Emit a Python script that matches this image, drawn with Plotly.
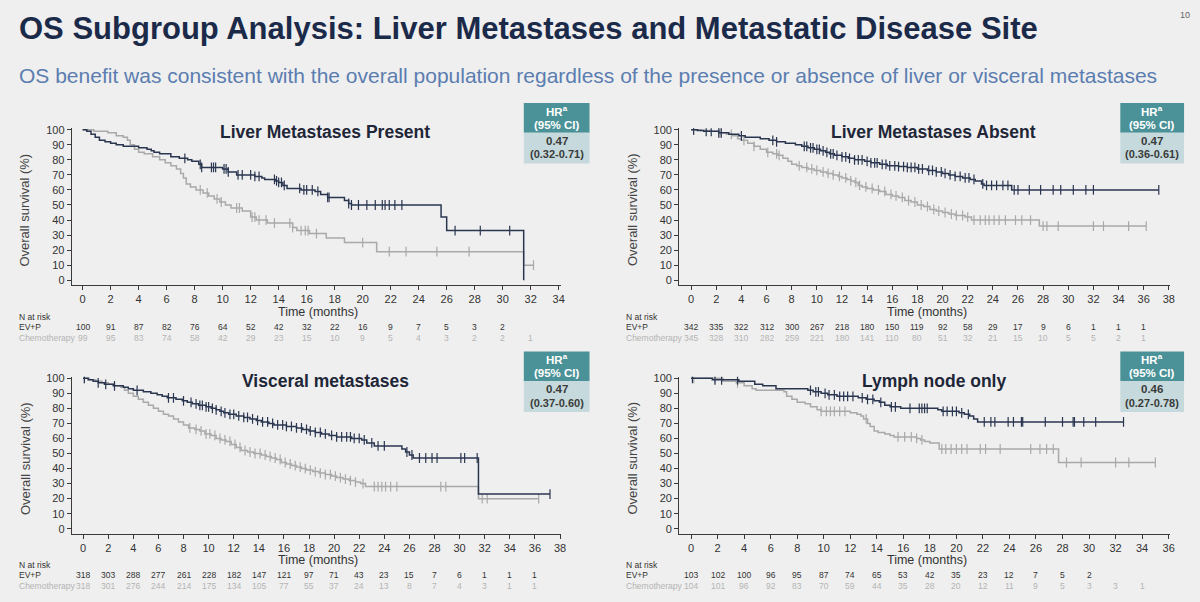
import plotly.graph_objects as go

# ---------------- DATA ----------------
# Liver metastases present (top-left)
tl_ev_t = [0, 0.3, 0.6, 0.9, 1.2, 1.6, 2.0, 2.4, 2.9, 4.0, 4.6, 4.9, 5.1, 5.5, 6.3, 6.9, 7.5, 7.8, 8.3, 8.5,
           10.0, 10.4, 11.0, 12.3, 12.8, 13.0, 13.8, 14.0, 14.3, 14.6, 15.6, 16.6, 17.0, 17.5, 18.7, 19.0, 19.2,
           25.6, 26.0, 31.5]
tl_ev_s = [100, 99, 97, 95, 93, 92, 91, 90, 89, 88, 87, 86, 85, 84, 82, 81, 80, 79, 77, 75,
           74, 72, 70, 69, 68, 67, 66, 65, 63, 61, 60, 59, 57, 55, 53, 51, 50,
           42, 33, 0]
tl_ev_c = [7.3, 8.4, 8.5, 9.2, 9.35, 9.5, 10.1, 10.25, 10.4, 11.1, 11.4, 12.0, 12.3, 12.6, 13.7, 13.85, 14.0,
           14.2, 14.4, 15.5, 15.8, 16.0, 16.4, 16.8, 17.5, 17.6, 19.0, 19.2, 19.7, 20.3, 20.9, 21.4, 21.6, 21.9,
           22.3, 22.8, 26.6, 28.4, 30.5]
tl_ch_t = [0, 0.8, 1.8, 2.4, 2.9, 3.2, 3.4, 3.7, 4.0, 4.4, 5.0, 5.5, 5.9, 6.3, 6.7, 7.0, 7.2, 7.4, 7.7, 8.1,
           8.6, 9.0, 9.4, 9.8, 10.2, 10.6, 11.4, 12.0, 12.4, 13.2, 15.0, 15.3, 16.2, 17.4, 18.7, 21.0, 31.5]
tl_ch_s = [100, 99, 98, 96, 95, 93, 90, 87, 85, 84, 82, 80, 78, 76, 74, 71, 68, 64, 62, 60,
           58, 56, 54, 52, 50, 48, 46, 42, 40, 38, 35, 33, 31, 28, 25, 19, 10]
tl_ch_c = [8.4, 8.9, 9.6, 9.9, 11.0, 11.2, 12.1, 12.3, 12.6, 13.1, 13.7, 14.8, 15.0, 15.6, 15.9, 16.1, 16.7,
           20.0, 21.9, 23.1, 25.3, 27.6, 32.2]
tl_risk_ev = [100, 91, 87, 82, 76, 64, 52, 42, 32, 22, 16, 9, 7, 5, 3, 2]
tl_risk_ch = [99, 95, 83, 74, 58, 42, 29, 23, 15, 10, 9, 5, 4, 3, 2, 2, 1]

# Liver metastases absent (top-right)
tr_ev_t = [0, 0.5, 1.0, 2.2, 3.0, 3.8, 4.3, 5.5, 6.2, 6.8, 7.5, 8.3, 8.8, 9.3, 9.8, 10.3, 10.7, 11.0, 11.4,
           12.0, 12.5, 13.0, 13.8, 14.3, 15.0, 15.6, 16.5, 17.2, 18.0, 18.8, 19.5, 20.0, 20.5, 21.0, 21.6,
           22.2, 22.6, 23.1, 23.3, 25.5]
tr_ev_s = [100, 99.5, 99, 98, 97, 96, 95, 94, 93, 92, 91, 90, 89, 88, 87, 86, 85, 84, 83,
           82, 81, 80, 79, 78, 77, 76, 75.5, 75, 74, 73, 72, 71, 70, 69, 68,
           67, 66, 64, 63, 60]
tr_ev_c = [0.2, 1.2, 1.6, 2.2, 2.4, 4.0, 6.5, 6.8, 9.0, 9.2, 9.5, 9.7, 10.0, 10.2, 10.5, 10.8, 11.1, 11.3,
           11.6, 12.0, 12.3, 12.6, 13.0, 13.3, 13.6, 14.0, 14.3, 14.6, 14.8, 15.2, 15.5, 15.8, 16.2, 16.5,
           16.9, 17.2, 17.5, 17.8, 18.1, 18.4, 18.9, 19.2, 19.5, 19.9, 20.2, 20.6, 21.0, 21.4, 21.8, 22.1,
           22.5, 23.2, 23.5, 23.9, 24.3, 24.8, 25.2, 25.7, 26.0, 26.9, 27.8, 28.8, 29.4, 30.4, 31.4, 32.0,
           37.2]
tr_ch_t = [0, 0.8, 1.5, 2.2, 2.8, 3.3, 3.7, 4.0, 4.5, 5.0, 5.5, 6.0, 6.5, 6.9, 7.3, 7.7, 8.0, 8.4, 8.8,
           9.3, 9.8, 10.3, 10.8, 11.3, 11.7, 12.0, 12.4, 12.7, 13.0, 13.3, 13.6, 14.0, 14.5, 15.0, 15.5,
           16.0, 16.5, 17.0, 17.5, 18.0, 18.5, 19.0, 19.5, 20.0, 20.5, 21.0, 21.8, 22.3, 27.7]
tr_ch_s = [100, 99.5, 99, 98, 97, 96, 94, 93, 91, 89, 87, 85, 84, 83, 81, 79, 77, 76, 75,
           74, 73, 72, 71, 70, 69, 68, 67, 66, 65, 63, 62, 61, 60, 59, 57,
           56, 55, 53, 52, 50, 49, 47, 46, 45, 44, 43, 42, 40, 36]
tr_ch_c = [0.2, 2.3, 3.2, 4.2, 5.0, 6.1, 6.8, 7.0, 8.6, 9.2, 9.6, 10.0, 10.5, 10.9, 11.3, 11.8, 12.3, 12.7,
           13.1, 13.4, 13.9, 14.4, 14.9, 15.4, 15.9, 16.3, 16.8, 17.3, 17.8, 18.3, 18.8, 19.3, 19.7, 20.2,
           20.7, 21.1, 21.6, 22.0, 22.5, 23.0, 23.4, 23.7, 24.1, 24.5, 25.0, 25.8, 26.3, 27.0, 28.0, 28.3,
           29.2, 32.0, 32.8, 34.8, 36.2]
tr_risk_ev = [342, 335, 322, 312, 300, 267, 218, 180, 150, 119, 92, 58, 29, 17, 9, 6, 1, 1, 1]
tr_risk_ch = [345, 328, 310, 282, 259, 221, 180, 141, 110, 80, 51, 32, 21, 15, 10, 5, 5, 2, 1]

# Visceral metastases (bottom-left)
bl_ev_t = [0, 0.4, 0.8, 1.2, 1.7, 2.4, 3.2, 3.6, 4.0, 4.8, 5.4, 5.9, 6.3, 6.7, 7.4, 7.9, 8.3, 8.7, 9.2, 9.8,
           10.2, 10.6, 10.9, 11.2, 11.6, 12.2, 12.8, 13.3, 13.8, 14.2, 14.8, 15.2, 16.2, 17.0, 17.5, 18.0,
           18.5, 19.0, 19.6, 20.2, 21.4, 22.2, 22.6, 23.2, 25.4, 25.7, 26.0, 26.3, 31.5]
bl_ev_s = [100, 99, 98, 97, 96, 95, 94, 93, 92, 91, 90, 89, 88, 87, 86, 85, 84, 83, 82, 81,
           80, 79, 78, 77, 76, 75, 74, 73, 72, 71, 70, 69, 68, 67, 66, 65,
           64, 63, 62, 61, 60, 59, 57, 55, 53, 51, 49, 47, 23]
bl_ev_c = [0.1, 1.2, 1.8, 2.5, 4.3, 6.8, 7.2, 8.0, 8.6, 9.0, 9.3, 9.5, 9.8, 10.0, 10.3, 10.6, 11.0, 11.3,
           11.7, 12.0, 12.4, 12.8, 13.1, 13.5, 13.9, 14.3, 14.7, 15.1, 15.5, 15.9, 16.2, 16.6, 17.0, 17.4,
           17.8, 18.1, 18.5, 18.9, 19.3, 19.8, 20.2, 20.6, 21.0, 21.3, 21.6, 22.0, 22.4, 23.0, 23.5, 24.0,
           25.8, 26.2, 26.8, 27.3, 27.8, 28.2, 30.1, 30.4, 31.4, 37.2]
bl_ch_t = [0, 0.5, 1.0, 1.5, 2.0, 2.5, 3.0, 3.3, 3.6, 4.0, 4.4, 4.8, 5.2, 5.6, 6.0, 6.4, 6.8, 7.2, 7.6, 8.0,
           8.4, 8.9, 9.3, 9.7, 10.2, 10.6, 11.0, 11.4, 11.8, 12.2, 12.6, 13.1, 13.6, 14.2, 14.6, 15.0, 15.4,
           15.8, 16.2, 16.6, 17.0, 17.4, 17.8, 18.3, 18.8, 19.3, 19.8, 20.2, 20.7, 21.2, 21.7, 22.1, 22.5, 31.5]
bl_ch_s = [100, 99, 98, 97, 96, 95, 94, 92, 90, 88, 86, 84, 82, 80, 78, 76, 75, 73, 71, 69,
           67, 66, 65, 63, 62, 60, 59, 58, 56, 54, 52, 51, 50, 49, 48, 47, 46,
           44, 43, 42, 41, 40, 39, 38, 37, 36, 35, 34, 33, 32, 31, 30, 28, 20]
bl_ch_c = [0.1, 8.5, 9.0, 9.4, 9.8, 10.1, 10.5, 10.9, 11.3, 11.7, 12.1, 12.5, 12.9, 13.3, 13.7, 14.1, 14.5,
           14.9, 15.3, 15.7, 16.1, 16.5, 16.9, 17.3, 17.7, 18.1, 18.5, 18.9, 19.3, 19.7, 20.1, 20.5, 20.9,
           21.3, 21.7, 22.3, 23.2, 23.5, 23.8, 24.1, 24.5, 25.0, 28.5, 28.9, 31.8, 32.2, 36.3]
bl_risk_ev = [318, 303, 288, 277, 261, 228, 182, 147, 121, 97, 71, 43, 23, 15, 7, 6, 1, 1, 1]
bl_risk_ch = [318, 301, 276, 244, 214, 175, 134, 105, 77, 55, 37, 24, 13, 8, 7, 4, 3, 1, 1]

# Lymph node only (bottom-right)
br_ev_t = [0, 1.6, 3.6, 4.8, 5.4, 6.4, 8.8, 9.2, 9.8, 10.3, 11.0, 12.6, 13.2, 13.8, 14.2, 14.6, 15.0, 15.8,
           18.6, 18.9, 20.2, 20.6, 21.0, 21.3, 21.6]
br_ev_s = [100, 99, 98, 96, 95, 93, 92, 91, 90, 89, 88, 87, 86, 85, 84, 82, 81, 80,
           79, 78, 77, 76, 75, 73, 71]
br_ev_c = [0.1, 1.8, 2.3, 3.5, 9.0, 9.4, 9.6, 10.1, 10.4, 10.8, 11.2, 11.5, 11.8, 12.2, 12.9, 13.3, 13.7,
           14.3, 15.1, 15.4, 16.5, 17.2, 17.4, 17.6, 17.8, 19.0, 19.3, 19.7, 20.0, 20.4, 20.9, 22.1, 22.6,
           22.9, 23.9, 24.3, 24.9, 25.0, 26.7, 28.0, 28.8, 28.9, 29.6, 30.5, 32.6]
br_ch_t = [0, 2.4, 3.4, 4.0, 4.6, 4.9, 7.0, 7.2, 7.6, 8.0, 8.6, 9.0, 9.5, 9.8, 12.0, 12.5, 12.8, 13.0, 13.3,
           13.5, 13.8, 14.1, 14.6, 15.0, 15.3, 17.0, 17.3, 17.6, 18.0, 18.7, 27.7]
br_ch_s = [100, 98, 97, 95, 93, 92, 91, 88, 86, 84, 83, 81, 79, 78, 77, 76, 75, 73, 70,
           68, 65, 64, 63, 62, 61, 60, 59, 58, 57, 53, 44]
br_ch_c = [0.2, 1.8, 3.5, 9.8, 10.2, 10.5, 10.8, 11.2, 11.6, 13.2, 15.6, 16.1, 16.6, 17.0, 17.4, 18.9, 19.2,
           19.6, 20.0, 20.4, 20.8, 21.8, 22.2, 23.3, 25.6, 26.3, 26.8, 27.3, 28.3, 29.4, 32.0, 33.0, 35.0]
br_risk_ev = [103, 102, 100, 96, 95, 87, 74, 65, 53, 42, 35, 23, 12, 7, 5, 2]
br_risk_ch = [104, 101, 96, 92, 83, 70, 59, 44, 35, 28, 20, 12, 11, 9, 5, 3, 3, 1]

panel_titles = ["Liver Metastases Present", "Liver Metastases Absent", "Visceral metastases", "Lymph node only"]
hr_values = ["0.47", "0.47", "0.47", "0.46"]
hr_ci = ["(0.32-0.71)", "(0.36-0.61)", "(0.37-0.60)", "(0.27-0.78)"]
x_max_ticks = [34, 38, 38, 36]

# ---------------- STYLE / LAYOUT ----------------
W, H = 1200, 602
BG = "#efefef"
NAVY = "#2a3650"
GREY = "#a9a9a9"
FONT = "Liberation Sans, Arial, sans-serif"

# pixel geometry of each panel: (x_left, x_right, y_top, y_bottom, xrange, risk-table base y)
geom = [
    (72, 563, 124.5, 283, [-0.78, 34.14], 285),
    (682, 1175, 124.5, 283, [-0.95, 38.1], 285),
    (72, 563, 375.5, 534, [-0.91, 38.05], 536),
    (682, 1175, 375.5, 534, [-0.9, 36.11], 536),
]
YR = [-3.3, 101]

def fx(p):
    return p / W

def fy(p):
    return 1 - p / H

def step_val(ts, ss, t):
    v = ss[0]
    for ti, si in zip(ts, ss):
        if ti <= t:
            v = si
    return v

panels = [
    (tl_ev_t, tl_ev_s, tl_ev_c, tl_ch_t, tl_ch_s, tl_ch_c, tl_risk_ev, tl_risk_ch),
    (tr_ev_t, tr_ev_s, tr_ev_c, tr_ch_t, tr_ch_s, tr_ch_c, tr_risk_ev, tr_risk_ch),
    (bl_ev_t, bl_ev_s, bl_ev_c, bl_ch_t, bl_ch_s, bl_ch_c, bl_risk_ev, bl_risk_ch),
    (br_ev_t, br_ev_s, br_ev_c, br_ch_t, br_ch_s, br_ch_c, br_risk_ev, br_risk_ch),
]

fig = go.Figure()
annotations = []
shapes = []

for i, (p, g) in enumerate(zip(panels, geom)):
    ev_t, ev_s, ev_c, ch_t, ch_s, ch_c, r_ev, r_ch = p
    xl, xr, yt, yb, xrange, rb = g
    n = i + 1
    xa = "x" if n == 1 else f"x{n}"
    ya = "y" if n == 1 else f"y{n}"

    for (ts, ss, cs, col) in [(ch_t, ch_s, ch_c, GREY), (ev_t, ev_s, ev_c, NAVY)]:
        end = max([ts[-1]] + cs)
        fig.add_trace(go.Scatter(x=ts + [end], y=ss + [ss[-1]], mode="lines",
                                 line=dict(color=col, width=1.5, shape="hv"),
                                 xaxis=xa, yaxis=ya, showlegend=False, hoverinfo="skip"))
        fig.add_trace(go.Scatter(x=cs, y=[step_val(ts, ss, c) for c in cs], mode="markers",
                                 marker=dict(symbol="line-ns", size=7, line=dict(color=col, width=1.2)),
                                 xaxis=xa, yaxis=ya, showlegend=False, hoverinfo="skip"))

    xmax = x_max_ticks[i]
    axis_common = dict(showline=True, linecolor="#3a3a3a", linewidth=1, ticks="outside", ticklen=4,
                       tickcolor="#3a3a3a", tickwidth=1, showgrid=False, zeroline=False,
                       tickfont=dict(family=FONT, size=11, color="#333333"), fixedrange=True)
    fig.update_layout(**{
        ("xaxis" if n == 1 else f"xaxis{n}"): dict(domain=[fx(xl), fx(xr)], range=xrange,
                                                     tickvals=list(range(0, xmax + 1, 2)),
                                                     anchor=ya, **axis_common),
        ("yaxis" if n == 1 else f"yaxis{n}"): dict(domain=[fy(yb), fy(yt)], range=YR,
                                                     tickvals=list(range(0, 101, 10)),
                                                     anchor=xa, **axis_common),
    })

    # panel title
    annotations.append(dict(text=f"<b>{panel_titles[i]}</b>", x=fx((xl + xr) / 2 + 9), y=fy(yt + 4),
                            xref="paper", yref="paper", showarrow=False, xanchor="center", yanchor="middle",
                            font=dict(family=FONT, size=17.5, color="#1e2638")))
    # y axis title
    annotations.append(dict(text="Overall survival (%)", x=fx(xl - 47), y=fy((yt + yb) / 2 + 3),
                            xref="paper", yref="paper", showarrow=False, textangle=-90,
                            xanchor="center", yanchor="middle",
                            font=dict(family=FONT, size=13, color="#444444")))
    # x axis title
    annotations.append(dict(text="Time (months)", x=fx((xl + xr) / 2 + 2), y=fy(rb + 25),
                            xref="paper", yref="paper", showarrow=False, xanchor="center", yanchor="middle",
                            font=dict(family=FONT, size=12.5, color="#333333")))
    # risk table
    lx = xl - 55
    fs_r = 8.5
    annotations.append(dict(text="N at risk", x=fx(lx), y=fy(rb + 30), xref="paper", yref="paper",
                            showarrow=False, xanchor="left", yanchor="middle",
                            font=dict(family=FONT, size=fs_r, color="#333333")))
    annotations.append(dict(text="EV+P", x=fx(lx), y=fy(rb + 40), xref="paper", yref="paper",
                            showarrow=False, xanchor="left", yanchor="middle",
                            font=dict(family=FONT, size=fs_r, color="#333333")))
    annotations.append(dict(text="Chemotherapy", x=fx(lx), y=fy(rb + 51), xref="paper", yref="paper",
                            showarrow=False, xanchor="left", yanchor="middle",
                            font=dict(family=FONT, size=fs_r, color="#b4b4b4")))
    for k, v in enumerate(r_ev):
        annotations.append(dict(text=str(v), x=2 * k, y=fy(rb + 40), xref=xa, yref="paper",
                                showarrow=False, xanchor="center", yanchor="middle",
                                font=dict(family=FONT, size=fs_r, color="#333333")))
    for k, v in enumerate(r_ch):
        annotations.append(dict(text=str(v), x=2 * k, y=fy(rb + 51), xref=xa, yref="paper",
                                showarrow=False, xanchor="center", yanchor="middle",
                                font=dict(family=FONT, size=fs_r, color="#b4b4b4")))

    # HR box
    bx0, bx1 = (526, 592) if i % 2 == 0 else (1125, 1189)
    by0 = 99 if i < 2 else 350
    shapes.append(dict(type="rect", xref="paper", yref="paper", x0=fx(bx0), x1=fx(bx1),
                       y0=fy(by0), y1=fy(by0 + 30), fillcolor="#4b9298", line=dict(width=0), layer="above"))
    shapes.append(dict(type="rect", xref="paper", yref="paper", x0=fx(bx0), x1=fx(bx1),
                       y0=fy(by0 + 30), y1=fy(by0 + 61), fillcolor="#c6dadd", line=dict(width=0), layer="above"))
    cx = (bx0 + bx1) / 2
    annotations.append(dict(text="<b>HR<sup>a</sup></b>", x=fx(cx), y=fy(by0 + 8), xref="paper", yref="paper",
                            showarrow=False, xanchor="center", yanchor="middle",
                            font=dict(family=FONT, size=11.5, color="#ffffff")))
    annotations.append(dict(text="<b>(95% CI)</b>", x=fx(cx), y=fy(by0 + 22), xref="paper", yref="paper",
                            showarrow=False, xanchor="center", yanchor="middle",
                            font=dict(family=FONT, size=11.5, color="#ffffff")))
    annotations.append(dict(text="<b>" + hr_values[i] + "</b>", x=fx(cx), y=fy(by0 + 38), xref="paper",
                            yref="paper", showarrow=False, xanchor="center", yanchor="middle",
                            font=dict(family=FONT, size=11.5, color="#3a3a3a")))
    annotations.append(dict(text="<b>" + hr_ci[i] + "</b>", x=fx(cx), y=fy(by0 + 52), xref="paper",
                            yref="paper", showarrow=False, xanchor="center", yanchor="middle",
                            font=dict(family=FONT, size=11, color="#3a3a3a")))

# page title & subtitle
annotations.append(dict(text="<b>OS Subgroup Analysis: Liver Metastases and Metastatic Disease Site</b>",
                        x=fx(17), y=fy(24), xref="paper", yref="paper", showarrow=False,
                        xanchor="left", yanchor="middle",
                        font=dict(family=FONT, size=31, color="#1c2a4a")))
annotations.append(dict(text="OS benefit was consistent with the overall population regardless of the presence or absence of liver or visceral metastases",
                        x=fx(17), y=fy(71), xref="paper", yref="paper", showarrow=False,
                        xanchor="left", yanchor="middle",
                        font=dict(family=FONT, size=21, color="#5b7db0")))
annotations.append(dict(text="10", x=fx(1190), y=fy(10), xref="paper", yref="paper", showarrow=False,
                        xanchor="center", yanchor="middle",
                        font=dict(family=FONT, size=9, color="#666666")))

fig.update_layout(width=W, height=H, autosize=False, margin=dict(l=0, r=0, t=0, b=0),
                  paper_bgcolor=BG, plot_bgcolor=BG, annotations=annotations, shapes=shapes,
                  showlegend=False)

fig.write_html("out.html")
